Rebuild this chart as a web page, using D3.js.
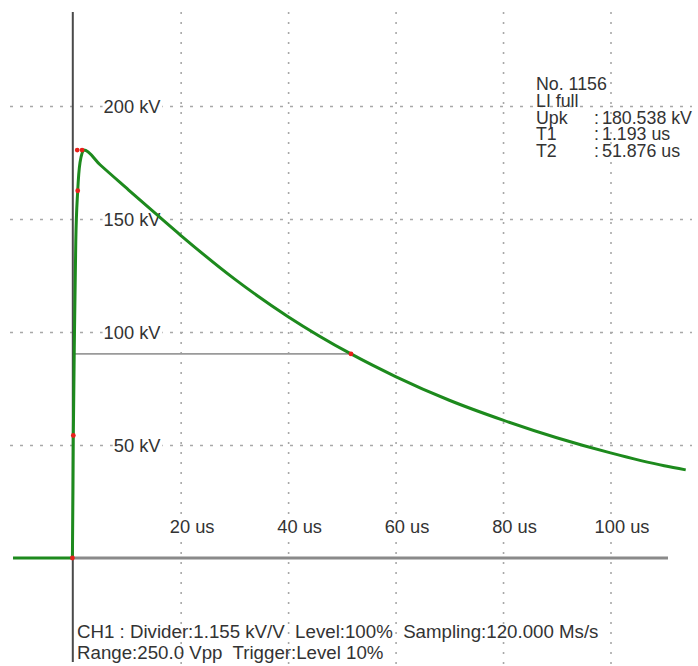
<!DOCTYPE html>
<html>
<head>
<meta charset="utf-8">
<script src="https://cdn.jsdelivr.net/npm/d3@7"></script>
<style>
  html, body { margin: 0; padding: 0; background: #fff; }
  svg { display: block; font-family: "Liberation Sans", Arial, sans-serif; }
  text { white-space: pre; }
</style>
</head>
<body>
<svg id="chart" width="698" height="666"></svg>
<script>
// Impulse record: time in microseconds, voltage in kV
const waveTime = [-11.2, -0.15, 0.02, 0.24, 0.48, 0.84, 1.27, 2.0, 5, 10, 16, 20, 30, 40, 51.7, 60, 70, 80, 90, 100, 110, 114];
const waveKV   = [0, 0, 54, 100, 140, 162.5, 175, 180.5, 174, 163.5, 151, 142.8, 123.5, 106.8, 90.3, 80.3, 69.8, 61, 53.2, 46.5, 40.8, 39];

// Evaluation points (origin, 30 %, 90 %, peak, 50 % on tail)
const markTime = [-0.15, 0.02, 0.84, 0.75, 1.65, 51.7];
const markKV   = [0, 54.2, 162.5, 180.5, 180.5, 90.3];

// Half-value reference level
const halfLevelKV = 90.3;
const halfLevelFrom = 0.33;
const halfLevelTo = 51.7;

const timeTicks = [20, 40, 60, 80, 100];
const timeTickLabels = ["20 us", "40 us", "60 us", "80 us", "100 us"];
const voltTicks = [50, 100, 150, 200];
const voltTickLabels = ["50 kV", "100 kV", "150 kV", "200 kV"];

const infoNames  = ["No. 1156", "LI full", "Upk", "T1", "T2"];
const infoValues = ["", "", "180.538 kV", "1.193 us", "51.876 us"];

const footerLines = [
  "CH1 : Divider:1.155 kV/V  Level:100%  Sampling:120.000 Ms/s",
  "Range:250.0 Vpp  Trigger:Level 10%"
];

const svg = d3.select("#chart");
const textColor = "#333";

// Scales
const x = d3.scaleLinear().domain([0, 100]).range([73.2, 610.5]);
const y = d3.scaleLinear().domain([0, 200]).range([558, 106]);

// Dotted grid
const grid = svg.append("g");
const gx = grid.append("g")
  .attr("transform", "translate(0,664)")
  .call(d3.axisBottom(x).tickValues(timeTicks).tickSize(-(664 - 5)).tickFormat(""));
gx.select(".domain").remove();
gx.selectAll(".tick line")
  .attr("stroke", "#a8a8a8").attr("stroke-width", 1.6).attr("stroke-dasharray", "2,8");

const gy = grid.append("g")
  .attr("transform", "translate(10,0)")
  .call(d3.axisLeft(y).tickValues(voltTicks).tickSize(-(692 - 10)).tickFormat(""));
gy.select(".domain").remove();
gy.selectAll(".tick line")
  .attr("stroke", "#a8a8a8").attr("stroke-width", 1.6).attr("stroke-dasharray", "3,7");

// Label with a white backing box that hides the grid behind it
function boxedLabel(parent, str, px, py, anchor) {
  const g = parent.append("g");
  const t = g.append("text")
    .attr("x", px).attr("y", py)
    .attr("text-anchor", anchor)
    .attr("dominant-baseline", "central")
    .attr("font-size", 18.3)
    .attr("fill", textColor)
    .text(str);
  const b = t.node().getBBox();
  g.insert("rect", "text")
    .attr("x", b.x - 1).attr("y", b.y + 1)
    .attr("width", b.width + 2).attr("height", b.height - 2)
    .attr("fill", "#fff");
}

voltTicks.forEach((v, i) => boxedLabel(svg, voltTickLabels[i], 160.5, y(v), "end"));
timeTicks.forEach((t, i) => boxedLabel(svg, timeTickLabels[i], x(t) + 11.5, 526.5, "middle"));

// Zero line and vertical axis
svg.append("line")
  .attr("x1", x(-0.15)).attr("x2", x(110.7))
  .attr("y1", y(0)).attr("y2", y(0))
  .attr("stroke", "#8a8a8a").attr("stroke-width", 3);

svg.append("line")
  .attr("x1", 72.8).attr("x2", 72.8)
  .attr("y1", 12).attr("y2", 662)
  .attr("stroke", "#4a4a4a").attr("stroke-width", 2);

// 50 % level line
svg.append("line")
  .attr("x1", x(halfLevelFrom)).attr("x2", x(halfLevelTo))
  .attr("y1", y(halfLevelKV)).attr("y2", y(halfLevelKV))
  .attr("stroke", "#9a9a9a").attr("stroke-width", 1.6);

// Waveform
const wave = waveTime.map((t, i) => [t, waveKV[i]]);
svg.append("path")
  .datum(wave)
  .attr("fill", "none")
  .attr("stroke", "#1d8a1d")
  .attr("stroke-width", 3)
  .attr("stroke-linejoin", "round")
  .attr("d", d3.line().x(d => x(d[0])).y(d => y(d[1])).curve(d3.curveMonotoneX));

// Evaluation markers
svg.append("g").selectAll("circle")
  .data(markTime.map((t, i) => [t, markKV[i]]))
  .join("circle")
  .attr("cx", d => x(d[0])).attr("cy", d => y(d[1]))
  .attr("r", 2.4)
  .attr("fill", "#e8201a");

// Measurement summary
const info = svg.append("g").attr("font-size", 17.8).attr("fill", textColor);
const infoBase = [89.5, 106.5, 123.5, 140, 156.5];
infoNames.forEach((n, i) => {
  info.append("text").attr("x", 536).attr("y", infoBase[i]).text(n);
  if (infoValues[i]) {
    info.append("text").attr("x", 594).attr("y", infoBase[i]).text(":");
    info.append("text").attr("x", 602).attr("y", infoBase[i]).text(infoValues[i]);
  }
});

// Footer
const footBase = [637.7, 659.3];
footerLines.forEach((s, i) => {
  svg.append("text")
    .attr("x", 77).attr("y", footBase[i])
    .attr("font-size", 18.7)
    .attr("fill", textColor)
    .text(s);
});
</script>
</body>
</html>
